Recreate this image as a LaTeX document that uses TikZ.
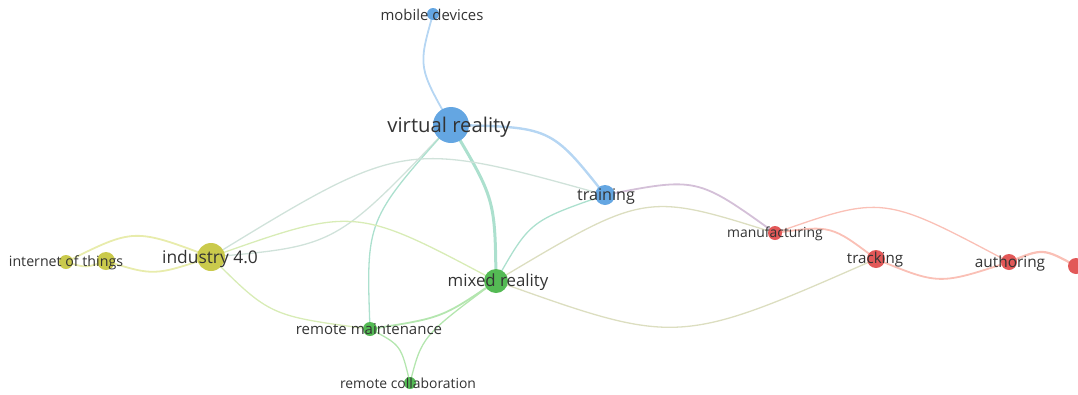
\documentclass[tikz,border=0pt]{standalone}
\usepackage{fontspec}
\setmainfont{Open Sans}
\pgfdeclarelayer{bg}
\pgfsetlayers{bg,main}
\definecolor{nblue}{RGB}{100,166,226}
\definecolor{ngreen}{RGB}{84,186,84}
\definecolor{nyellow}{RGB}{202,202,76}
\definecolor{nred}{RGB}{226,88,88}
\definecolor{eblue}{RGB}{182,214,243}
\definecolor{egreen}{RGB}{180,230,175}
\definecolor{eyellow}{RGB}{232,236,172}
\definecolor{ered}{RGB}{250,192,182}
\definecolor{eteal}{RGB}{172,224,206}
\definecolor{eyb}{RGB}{208,226,218}
\definecolor{eyg}{RGB}{216,236,182}
\definecolor{egr}{RGB}{220,222,192}
\definecolor{ebr}{RGB}{212,192,216}
\definecolor{txt}{RGB}{51,51,51}
\tikzset{
  vnode/.style={circle, inner sep=0pt, minimum size=#1},
  edgeline/.style={line width=1.3pt, line cap=round},
  lbl/.style={text=txt, inner sep=0pt, anchor=center}
}
\begin{document}
\begin{tikzpicture}[x=1pt,y=-1pt]
\useasboundingbox (0,0) rectangle (1078,394);
% nodes
\node[vnode=12pt, fill=nblue] (md) at (433,14) {};
\node[vnode=36pt, fill=nblue] (vr) at (451,125) {};
\node[vnode=20pt, fill=nblue] (tr) at (605,195) {};
\node[vnode=14pt, fill=nred] (mf) at (775,233) {};
\node[vnode=18pt, fill=nred] (tk) at (876,259) {};
\node[vnode=16pt, fill=nred] (au) at (1009,262) {};
\node[vnode=16pt, fill=nred] (rr) at (1076,266) {};
\node[vnode=28pt, fill=nyellow] (ind) at (211,257) {};
\node[vnode=14pt, fill=nyellow] (iot) at (66,262) {};
\node[vnode=18pt, fill=nyellow] (y2) at (106,261) {};
\node[vnode=24pt, fill=ngreen] (mr) at (496,281) {};
\node[vnode=14pt, fill=ngreen] (rm) at (370,329) {};
\node[vnode=12pt, fill=ngreen] (rc) at (410,383) {};
% edges
\begin{pgfonlayer}{bg}
\draw[edgeline, eblue, line width=1.8pt] (md.center) .. controls (418,67) .. (vr.center);
\draw[edgeline, eblue, line width=2.4pt] (vr.center) .. controls (551,127) .. (tr.center);
\draw[edgeline, eteal, line width=3pt] (vr.center) .. controls (495,199) .. (mr.center);
\draw[edgeline, eyb] (vr.center) .. controls (336,246) .. (ind.center);
\draw[edgeline, eteal] (vr.center) .. controls (366,220) .. (rm.center);
\draw[edgeline, eyb] (ind.center) .. controls (404,139) .. (tr.center);
\draw[edgeline, eyg] (ind.center) .. controls (355,206) .. (mr.center);
\draw[edgeline, eyg] (ind.center) .. controls (270,316) .. (rm.center);
\draw[edgeline, eyellow, line width=1.8pt] (iot.center) .. controls (134,228) .. (ind.center);
\draw[edgeline, eyellow, line width=1.8pt] (y2.center) .. controls (154,276) .. (ind.center);
\draw[edgeline, eyellow, line width=1.8pt] (iot.center) .. controls (86,268) .. (y2.center);
\draw[edgeline, eteal] (mr.center) .. controls (530,221) .. (tr.center);
\draw[edgeline, egr] (mr.center) .. controls (645,192) .. (mf.center);
\draw[edgeline, egr] (mr.center) .. controls (678,346) .. (tk.center);
\draw[edgeline, egreen, line width=1.8pt] (mr.center) .. controls (442,318) .. (rm.center);
\draw[edgeline, egreen] (mr.center) .. controls (422,336) .. (rc.center);
\draw[edgeline, egreen] (rm.center) .. controls (401,345) .. (rc.center);
\draw[edgeline, ebr, line width=1.8pt] (tr.center) .. controls (697,177) .. (mf.center);
\draw[edgeline, ered, line width=1.8pt] (mf.center) .. controls (831,225) .. (tk.center);
\draw[edgeline, ered] (mf.center) .. controls (883,195) .. (au.center);
\draw[edgeline, ered, line width=1.8pt] (tk.center) .. controls (939,285) .. (au.center);
\draw[edgeline, ered, line width=2.2pt] (au.center) .. controls (1043,248) .. (rr.center);
\end{pgfonlayer}
% labels
\node[lbl, font=\fontsize{14.9}{16}\selectfont] (md-l) at (432,15) {mobile devices};
\node[lbl, font=\fontsize{20.3}{22}\selectfont] (vr-l) at (449,127) {virtual reality};
\node[lbl, font=\fontsize{16.1}{18}\selectfont] (tr-l) at (606,197) {training};
\node[lbl, font=\fontsize{13.9}{16}\selectfont] (mf-l) at (775,234) {manufacturing};
\node[lbl, font=\fontsize{15.1}{17}\selectfont] (tk-l) at (875,260) {tracking};
\node[lbl, font=\fontsize{15.4}{17}\selectfont] (au-l) at (1010,263) {authoring};
\node[lbl, font=\fontsize{17.4}{19}\selectfont] (ind-l) at (210,259) {industry 4.0};
\node[lbl, font=\fontsize{14.2}{16}\selectfont] (iot-l) at (66,263) {internet of things};
\node[lbl, font=\fontsize{16.8}{18}\selectfont] (mr-l) at (498,282) {mixed reality};
\node[lbl, font=\fontsize{15}{17}\selectfont] (rm-l) at (369,329) {remote maintenance};
\node[lbl, font=\fontsize{13.9}{16}\selectfont] (rc-l) at (408,383) {remote collaboration};
\end{tikzpicture}
\end{document}
